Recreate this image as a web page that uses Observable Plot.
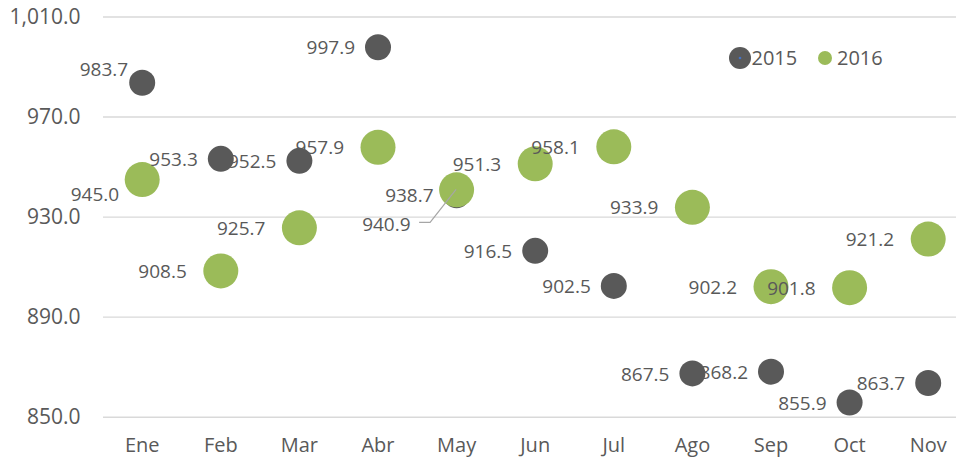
<!DOCTYPE html>
<html>
<head>
<meta charset="utf-8">
<script src="https://cdn.jsdelivr.net/npm/d3@7"></script>
<script src="https://cdn.jsdelivr.net/npm/@observablehq/plot@0.6"></script>
<style>
html, body { margin: 0; padding: 0; background: #fff; }
#wrap { position: relative; width: 956px; height: 460px; font-family: "Open Sans", sans-serif; }
#legend { position: absolute; left: 0; top: 0; pointer-events: none; }
</style>
</head>
<body>
<div id="wrap"></div>
<script>
// ---- data ----
const months = ["Ene", "Feb", "Mar", "Abr", "May", "Jun", "Jul", "Ago", "Sep", "Oct", "Nov"];
const values2015 = [983.7, 953.3, 952.5, 997.9, 938.7, 916.5, 902.5, 867.5, 868.2, 855.9, 863.7];
const values2016 = [945.0, 908.5, 925.7, 957.9, 940.9, 951.3, 958.1, 933.9, 902.2, 901.8, 921.2];
const yTicks = [850, 890, 930, 970, 1010];
const seriesNames = ["2015", "2016"];

// ---- styling / layout ----
const colors = ["#595959", "#9BBB59"];
const textColor = "#595959";
const fmtLabel = d3.format(".1f");
const fmtTick = d3.format(",.1f");
// label nudges (px) for labels that were moved off their default spot
const nudges2015 = { Ene: [9, -14] };
const nudges2016 = { Ene: [11, 14], May: [-12, 34] };

const rows = (vals) => months.map((m, i) => ({ month: m, value: vals[i], label: fmtLabel(vals[i]) }));
const rows2015 = rows(values2015);
const rows2016 = rows(values2016);

function labelMarks(data, baseDx, nudges) {
  const out = [];
  const plain = data.filter(d => !nudges[d.month]);
  out.push(Plot.text(plain, { x: "month", y: "value", text: "label", textAnchor: "end", dx: baseDx, dy: 1, fontSize: 19, fill: textColor }));
  for (const d of data.filter(d => nudges[d.month])) {
    const [nx, ny] = nudges[d.month];
    out.push(Plot.text([d], { x: "month", y: "value", text: "label", textAnchor: "end", dx: baseDx + nx, dy: 1 + ny, fontSize: 19, fill: textColor }));
  }
  return out;
}

// leader line from the moved May 2016 label to its point
function leader(month, value, ox, oy) {
  return (index, scales) => {
    const x = scales.x(month), y = scales.y(value);
    const g = d3.create("svg:path")
      .attr("d", `M${x + ox - 11},${y + oy}h11L${x},${y}`)
      .attr("fill", "none")
      .attr("stroke", "#A6A6A6")
      .attr("stroke-width", 1.2);
    return g.node();
  };
}

const chart = Plot.plot({
  width: 956,
  height: 460,
  marginLeft: 103,
  marginRight: 0,
  marginTop: 16.5,
  marginBottom: 43.3,
  style: { fontFamily: '"Open Sans", sans-serif', background: "#fff" },
  x: { type: "point", domain: months, range: [141.7, 927.7], padding: 0, round: false },
  y: { domain: [850, 1010], range: [416.7, 16.5] },
  marks: [
    Plot.gridY(yTicks, { stroke: "#D9D9D9", strokeOpacity: 1, strokeWidth: 1.4 }),
    Plot.axisY(yTicks, { tickSize: 0, tickPadding: 23, tickFormat: fmtTick, fontSize: 21, fill: textColor, label: null }),
    Plot.axisX({ tickSize: 0, tickPadding: 21, fontSize: 20, fill: textColor, label: null }),
    Plot.dot(rows2015, { x: "month", y: "value", r: 13, fill: colors[0] }),
    Plot.dot(rows2016, { x: "month", y: "value", r: 17.5, fill: colors[1] }),
    leader("May", values2016[4], -26, 33),
    ...labelMarks(rows2015, -23, nudges2015),
    ...labelMarks(rows2016, -34, nudges2016)
  ]
});

const wrap = document.getElementById("wrap");
wrap.appendChild(chart);

// legend overlay (inside the plot area, top right)
const leg = d3.select(wrap).append("svg").attr("id", "legend").attr("width", 956).attr("height", 100);
const legItems = [
  { name: seriesNames[0], color: colors[0], cx: 740, r: 11, tx: 751.5 },
  { name: seriesNames[1], color: colors[1], cx: 825, r: 7, tx: 837 }
];
for (const it of legItems) {
  leg.append("circle").attr("cx", it.cx).attr("cy", 58).attr("r", it.r).attr("fill", it.color);
  leg.append("text").attr("x", it.tx).attr("y", 58).attr("dy", "0.35em")
    .attr("font-family", '"Open Sans", sans-serif').attr("font-size", 20).attr("fill", textColor).text(it.name);
}
leg.append("circle").attr("cx", 740).attr("cy", 58).attr("r", 1.3).attr("fill", "#4472C4");
</script>
</body>
</html>
